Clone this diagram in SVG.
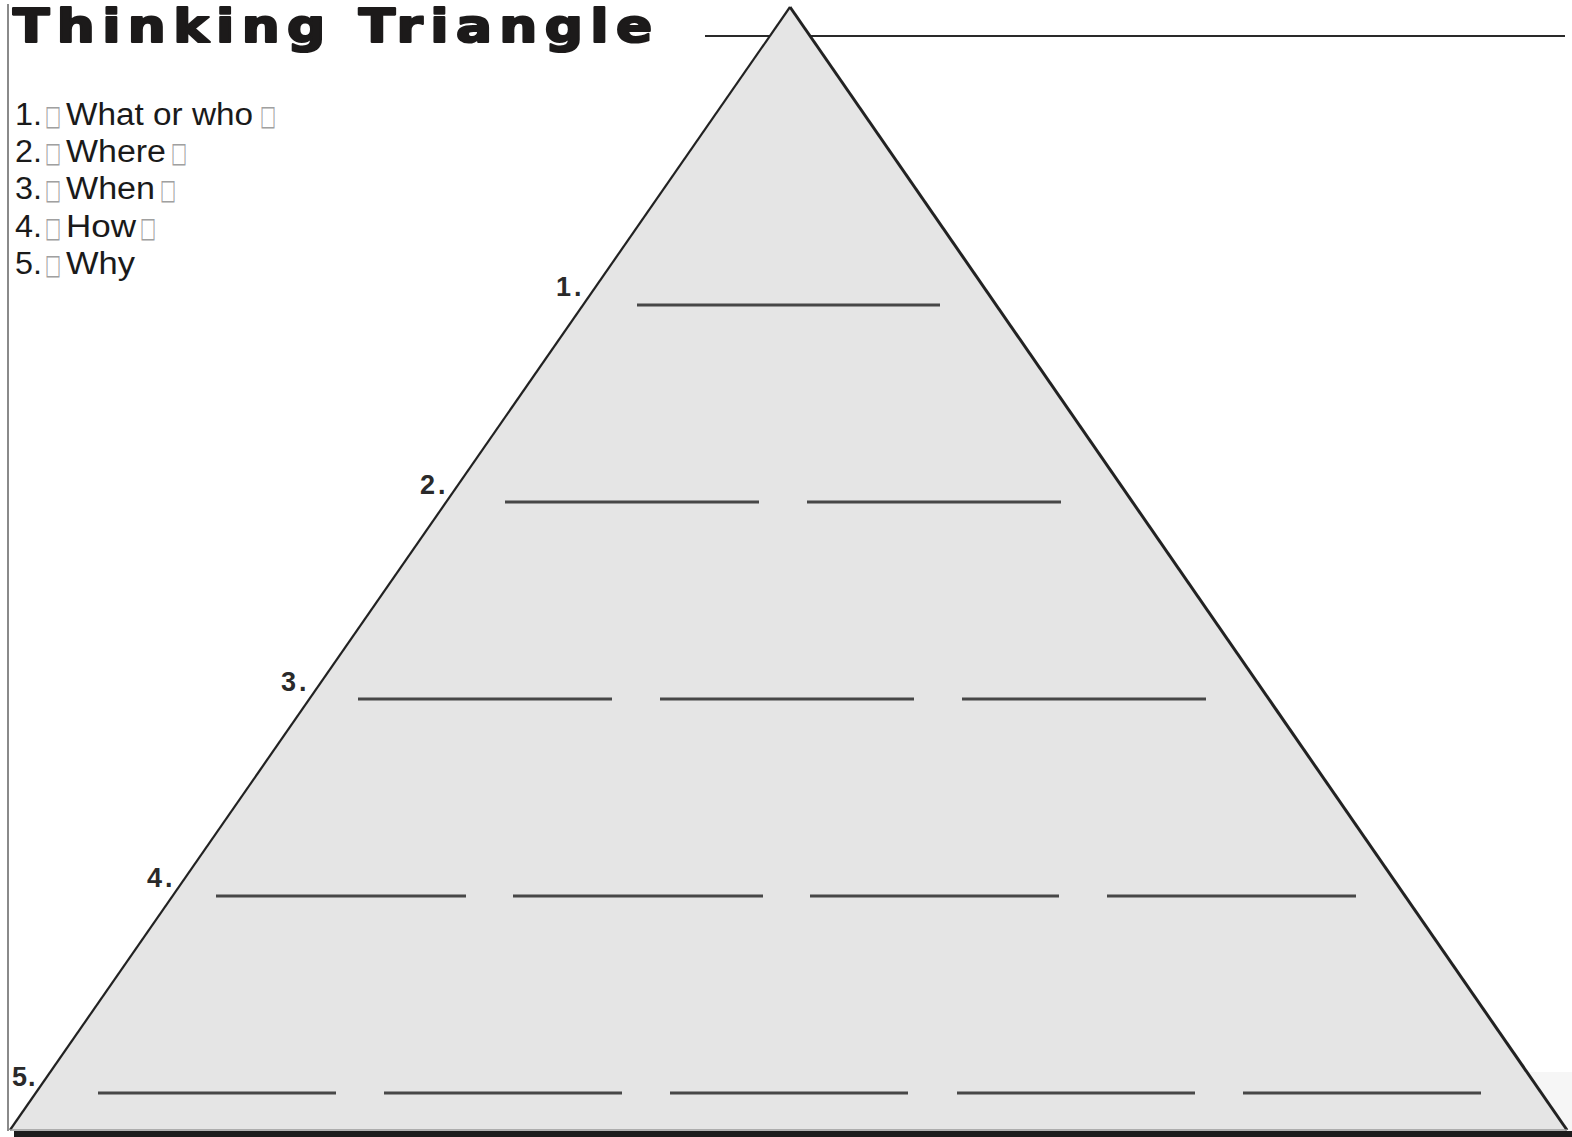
<svg xmlns="http://www.w3.org/2000/svg" width="1572" height="1137" viewBox="0 0 1572 1137">
  <style>
    .blank { stroke: #474747; stroke-width: 3; stroke-linecap: butt; }
    .edge { stroke: #222; fill: none; }
    .item { font-family: "Liberation Sans", Arial, sans-serif; font-size: 31px; fill: #1a1a1a; }
    .box { font-family: "DejaVu Sans", sans-serif; font-size: 28px; fill: #a0a0a0; }
    .num { font-family: "Liberation Sans", Arial, sans-serif; font-size: 27px; font-weight: bold; fill: #2a2a2a; }
  </style>
  <rect x="0" y="0" width="1572" height="1137" fill="#ffffff"/>
  <rect x="1100" y="1072" width="472" height="60" fill="#f6f6f6"/>

  <g id="frame">
    <line x1="8" y1="4" x2="8" y2="1131" stroke="#8a8a8a" stroke-width="2"/>
    <line x1="705" y1="36" x2="1565" y2="36" stroke="#2a2a2a" stroke-width="2.2"/>
    <rect x="14" y="1131" width="1558" height="6" fill="#1c1c1c"/>
  </g>

  <g id="triangle">
    <polygon points="790,7 10,1130 1567,1130" fill="#e5e5e5"/>
    <line class="edge" x1="790" y1="7" x2="10" y2="1130" stroke-width="2.2"/>
    <line class="edge" x1="790" y1="7" x2="1567" y2="1130" stroke-width="3"/>
    <line x1="10" y1="1130" x2="1567" y2="1130" stroke="#9a9a9a" stroke-width="1.5"/>
  </g>

  <g id="title">
    <text transform="translate(13,42) scale(1.16,1)" x="0" y="0" font-family="DejaVu Sans, Liberation Sans, sans-serif" font-weight="bold" font-size="46" fill="#1c1a1a" stroke="#1c1a1a" stroke-width="2.2" stroke-linejoin="round" textLength="551" lengthAdjust="spacing">Thinking Triangle</text>
  </g>

  <g id="legend">
    <text class="item" x="15" y="125" textLength="27" lengthAdjust="spacingAndGlyphs">1.</text>
    <text class="box" x="45" y="125" textLength="16" lengthAdjust="spacingAndGlyphs">□</text>
    <text class="item" x="66" y="125" textLength="187" lengthAdjust="spacingAndGlyphs">What or who</text>
    <text class="box" x="260" y="125" textLength="16" lengthAdjust="spacingAndGlyphs">□</text>

    <text class="item" x="15" y="162" textLength="27" lengthAdjust="spacingAndGlyphs">2.</text>
    <text class="box" x="45" y="162" textLength="16" lengthAdjust="spacingAndGlyphs">□</text>
    <text class="item" x="66" y="162" textLength="100" lengthAdjust="spacingAndGlyphs">Where</text>
    <text class="box" x="171" y="162" textLength="16" lengthAdjust="spacingAndGlyphs">□</text>

    <text class="item" x="15" y="199" textLength="27" lengthAdjust="spacingAndGlyphs">3.</text>
    <text class="box" x="45" y="199" textLength="16" lengthAdjust="spacingAndGlyphs">□</text>
    <text class="item" x="66" y="199" textLength="89" lengthAdjust="spacingAndGlyphs">When</text>
    <text class="box" x="160" y="199" textLength="16" lengthAdjust="spacingAndGlyphs">□</text>

    <text class="item" x="15" y="237" textLength="27" lengthAdjust="spacingAndGlyphs">4.</text>
    <text class="box" x="45" y="237" textLength="16" lengthAdjust="spacingAndGlyphs">□</text>
    <text class="item" x="66" y="237" textLength="70" lengthAdjust="spacingAndGlyphs">How</text>
    <text class="box" x="140" y="237" textLength="16" lengthAdjust="spacingAndGlyphs">□</text>

    <text class="item" x="15" y="274" textLength="27" lengthAdjust="spacingAndGlyphs">5.</text>
    <text class="box" x="45" y="274" textLength="16" lengthAdjust="spacingAndGlyphs">□</text>
    <text class="item" x="66" y="274" textLength="69" lengthAdjust="spacingAndGlyphs">Why</text>
  </g>

  <g id="level-labels">
    <text class="num" x="556" y="296" letter-spacing="3">1.</text>
    <text class="num" x="420" y="494" letter-spacing="3">2.</text>
    <text class="num" x="281" y="691" letter-spacing="3">3.</text>
    <text class="num" x="147" y="887" letter-spacing="3">4.</text>
    <text class="num" x="12" y="1086" font-weight="normal" letter-spacing="1">5.</text>
  </g>

  <g id="blanks">
    <line class="blank" x1="637" y1="305" x2="940" y2="305"/>

    <line class="blank" x1="505" y1="502" x2="759" y2="502"/>
    <line class="blank" x1="807" y1="502" x2="1061" y2="502"/>

    <line class="blank" x1="358" y1="699" x2="612" y2="699"/>
    <line class="blank" x1="660" y1="699" x2="914" y2="699"/>
    <line class="blank" x1="962" y1="699" x2="1206" y2="699"/>

    <line class="blank" x1="216" y1="896" x2="466" y2="896"/>
    <line class="blank" x1="513" y1="896" x2="763" y2="896"/>
    <line class="blank" x1="810" y1="896" x2="1059" y2="896"/>
    <line class="blank" x1="1107" y1="896" x2="1356" y2="896"/>

    <line class="blank" x1="98" y1="1093" x2="336" y2="1093"/>
    <line class="blank" x1="384" y1="1093" x2="622" y2="1093"/>
    <line class="blank" x1="670" y1="1093" x2="908" y2="1093"/>
    <line class="blank" x1="957" y1="1093" x2="1195" y2="1093"/>
    <line class="blank" x1="1243" y1="1093" x2="1481" y2="1093"/>
  </g>
</svg>
